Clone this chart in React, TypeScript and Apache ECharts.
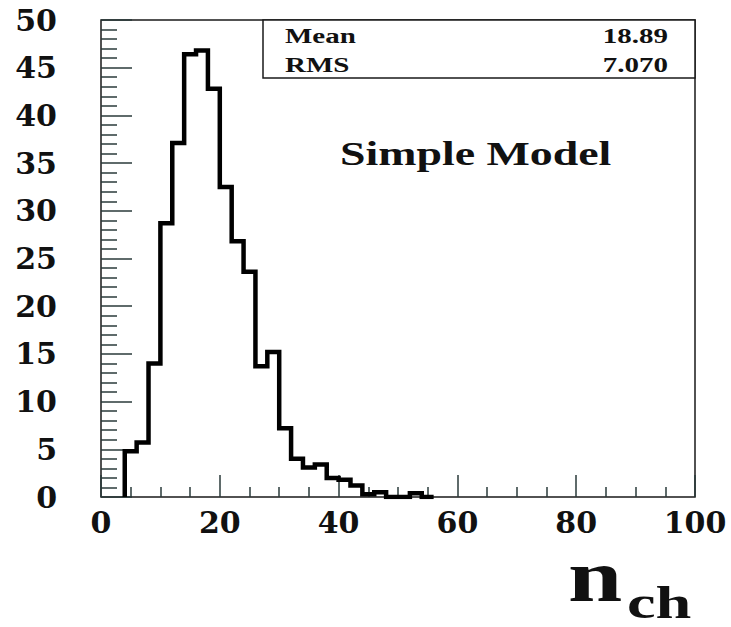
import { useEffect, useRef } from 'react';
import * as echarts from 'echarts';

// Histogram of n_ch: bins of width 2 starting at 4
const binStart = 4;
const binWidth = 2;
const counts = [
  4.8, 5.7, 14.0, 28.7, 37.1, 46.4, 46.8, 42.8, 32.5, 26.8,
  23.6, 13.7, 15.2, 7.2, 4.0, 3.1, 3.4, 2.0, 1.8, 1.2,
  0.3, 0.5, 0, 0, 0.4, 0,
];
const xMin = 0;
const xMax = 100;
const xInterval = 20;
const yMin = 0;
const yMax = 50;
const yInterval = 5;
const statLabels = ['Mean', 'RMS'];
const statValues = ['18.89', '7.070'];
const titleText = 'Simple Model';
const axisTitleMain = 'n';
const axisTitleSub = 'ch';

export default function App() {
  const ref = useRef<HTMLDivElement>(null);

  useEffect(() => {
    const chart = echarts.init(ref.current!, null, { renderer: 'svg' });

    const pts: number[][] = [[binStart, 0]];
    counts.forEach((c, i) => {
      const lo = binStart + i * binWidth;
      pts.push([lo, c], [lo + binWidth, c]);
    });
    pts.push([binStart + counts.length * binWidth, 0]);

    const serif = '"Liberation Serif", "Times New Roman", serif';
    const labelFont = '"DejaVu Serif", serif';
    const ink = '#1a1a1a';

    chart.setOption({
      animation: false,
      backgroundColor: '#ffffff',
      grid: {
        left: 101,
        top: 20,
        width: 594,
        height: 477,
        show: true,
        borderColor: ink,
        borderWidth: 1.5,
        backgroundColor: 'transparent',
      },
      xAxis: {
        type: 'value',
        min: xMin,
        max: xMax,
        interval: xInterval,
        axisLine: { show: false },
        splitLine: { show: false },
        axisTick: { show: true, inside: true, length: 22, lineStyle: { color: '#2a3a3a', width: 1.5 } },
        minorTick: { show: true, splitNumber: 4, length: 10, lineStyle: { color: '#2a3a3a', width: 1.5 } },
        axisLabel: {
          margin: 10,
          fontFamily: labelFont,
          fontWeight: 'bold',
          fontSize: 30,
          color: '#111',
        },
      },
      yAxis: {
        type: 'value',
        min: yMin,
        max: yMax,
        interval: yInterval,
        axisLine: { show: false },
        splitLine: { show: false },
        axisTick: { show: true, inside: true, length: 31, lineStyle: { color: '#2a3a3a', width: 1.5 } },
        minorTick: { show: true, splitNumber: 5, length: 16, lineStyle: { color: '#2a3a3a', width: 1.5 } },
        axisLabel: {
          margin: 44,
          fontFamily: labelFont,
          fontWeight: 'bold',
          fontSize: 30,
          color: '#111',
        },
      },
      series: [
        {
          type: 'line',
          data: pts,
          showSymbol: false,
          symbol: 'none',
          lineStyle: { color: '#000', width: 4.5, join: 'miter' },
          clip: true,
        },
      ],
      graphic: [
        {
          type: 'rect',
          shape: { x: 263, y: 20, width: 432, height: 58 },
          style: { fill: '#fff', stroke: ink, lineWidth: 1.5 },
          z: 10,
        },
        ...statLabels.map((t, i) => ({
          type: 'text',
          x: 285,
          y: 36.5 + i * 28.5,
          scaleX: 1.45,
          z: 11,
          style: {
            text: t,
            font: `bold 20px ${serif}`,
            fill: '#111',
            textAlign: 'left',
            textVerticalAlign: 'middle',
          },
        })),
        ...statValues.map((t, i) => ({
          type: 'text',
          x: 668,
          y: 36.5 + i * 28.5,
          scaleX: 1.45,
          z: 11,
          style: {
            text: t,
            font: `bold 20px ${serif}`,
            fill: '#111',
            textAlign: 'right',
            textVerticalAlign: 'middle',
          },
        })),
        {
          type: 'text',
          x: 340,
          y: 154,
          scaleX: 1.39,
          z: 11,
          style: {
            text: titleText,
            font: `bold 33px ${serif}`,
            fill: '#111',
            textAlign: 'left',
            textVerticalAlign: 'middle',
          },
        },
        {
          type: 'text',
          x: 568,
          y: 576,
          scaleX: 1.3,
          z: 11,
          style: {
            text: axisTitleMain,
            font: `bold 75px ${serif}`,
            fill: '#111',
            textAlign: 'left',
            textVerticalAlign: 'middle',
          },
        },
        {
          type: 'text',
          x: 627,
          y: 602,
          scaleX: 1.4,
          z: 11,
          style: {
            text: axisTitleSub,
            font: `bold 46px ${serif}`,
            fill: '#111',
            textAlign: 'left',
            textVerticalAlign: 'middle',
          },
        },
      ],
    });

    return () => chart.dispose();
  }, []);

  return (
    <div
      ref={ref}
      style={{ position: 'fixed', left: 0, top: 0, width: 731, height: 627, background: '#fff' }}
    />
  );
}
